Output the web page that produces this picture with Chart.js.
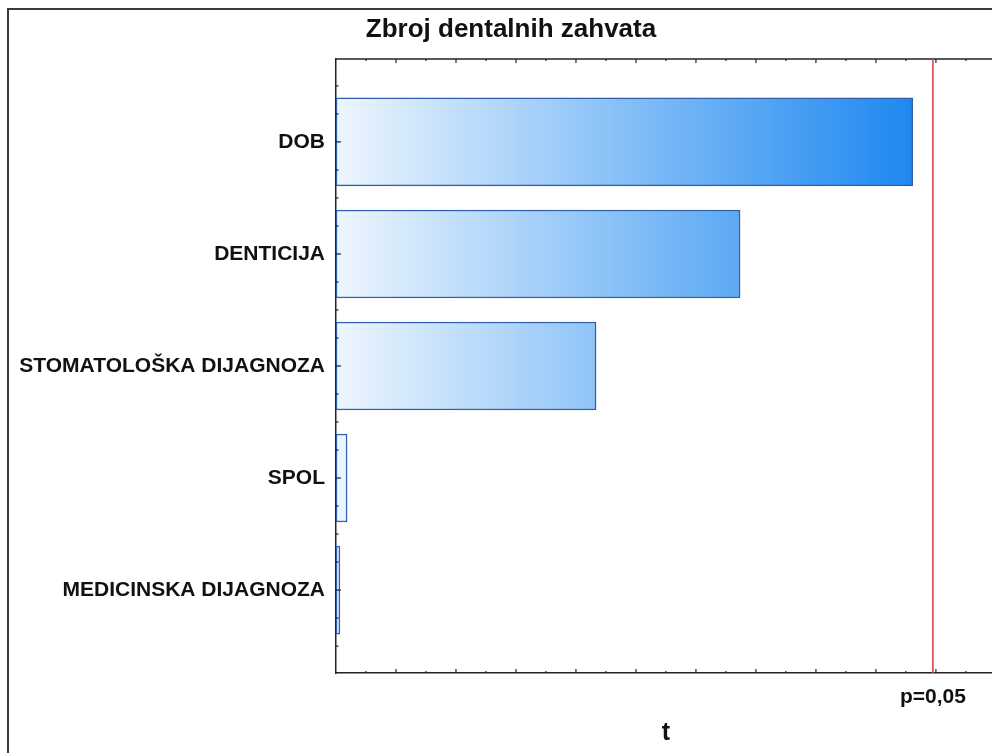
<!DOCTYPE html>
<html>
<head>
<meta charset="utf-8">
<script src="https://cdn.jsdelivr.net/npm/chart.js@4"></script>
<style>
  html, body { margin: 0; padding: 0; background: #fff; overflow: hidden; }
  #wrap { width: 992px; height: 753px; position: relative; }
</style>
</head>
<body>
<div id="wrap"><canvas id="myChart"></canvas></div>
<script>
const categories = [
    'DOB',
    'DENTICIJA',
    'STOMATOLOŠKA DIJAGNOZA',
    'SPOL',
    'MEDICINSKA DIJAGNOZA'
];

// t values
const tValues = [1.923, 1.347, 0.867, 0.037, 0.013];

// critical t for p=0,05
const critT = 1.99;
const critLabel = 'p=0,05';

const chartTitle = 'Zbroj dentalnih zahvata';
const axisTitle = 't';

const fontFamily = '"Liberation Sans", Arial, sans-serif';

const data = {
    datasets: [{
        data: tValues.map((v, i) => ({ x: v, y: i + 1 })),
        backgroundColor: (c) => {
            const chart = c.chart;
            if (!chart.chartArea) return '#8ec4f8';
            const xs = chart.scales.x;
            const g = chart.ctx.createLinearGradient(xs.getPixelForValue(0), 0, xs.getPixelForValue(Math.max(...tValues)), 0);
            g.addColorStop(0, '#edf6fe');
            g.addColorStop(1, '#1e88f0');
            return g;
        },
        borderColor: '#2f5fae',
        borderWidth: 1.5,
        borderSkipped: false,
        barThickness: 88
    }]
};

// frame, inward ticks, critical line and texts
const extras = {
    id: 'extras',
    beforeDraw(chart) {
        const ctx = chart.ctx;
        ctx.save();
        ctx.strokeStyle = '#3a3a3a';
        ctx.lineWidth = 2;
        ctx.beginPath();
        ctx.moveTo(8, 753);
        ctx.lineTo(8, 9);
        ctx.lineTo(992, 9);
        ctx.stroke();
        ctx.restore();
    },
    afterDraw(chart) {
        const ctx = chart.ctx;
        const a = chart.chartArea;
        const xs = chart.scales.x;
        const ys = chart.scales.y;
        ctx.save();

        // top border
        ctx.strokeStyle = '#222';
        ctx.lineWidth = 1.5;
        ctx.beginPath();
        ctx.moveTo(a.left, a.top);
        ctx.lineTo(a.right, a.top);
        ctx.stroke();

        // x ticks, bottom and top, pointing inward
        ctx.lineWidth = 1.2;
        xs.ticks.forEach(t => {
            if (t.value <= 0.0001) return;
            const major = Math.round(t.value * 10) % 2 === 0;
            const len = major ? 4 : 2;
            const px = xs.getPixelForValue(t.value);
            ctx.beginPath();
            ctx.moveTo(px, a.bottom);
            ctx.lineTo(px, a.bottom - len);
            ctx.moveTo(px, a.top);
            ctx.lineTo(px, a.top + len);
            ctx.stroke();
        });

        // y ticks on the left axis
        ys.ticks.forEach(t => {
            const major = Math.abs(t.value - Math.round(t.value)) < 0.001;
            const len = major ? 5 : 2.5;
            const py = ys.getPixelForValue(t.value);
            ctx.beginPath();
            ctx.moveTo(a.left, py);
            ctx.lineTo(a.left + len, py);
            ctx.stroke();
        });

        // critical value line
        const cx = xs.getPixelForValue(critT);
        ctx.strokeStyle = '#d04a4a';
        ctx.lineWidth = 1.6;
        ctx.beginPath();
        ctx.moveTo(cx, a.top);
        ctx.lineTo(cx, a.bottom);
        ctx.stroke();

        ctx.fillStyle = '#111';
        ctx.textAlign = 'center';
        ctx.textBaseline = 'middle';
        ctx.font = 'bold 21px ' + fontFamily;
        ctx.fillText(critLabel, cx, 697);

        ctx.font = 'bold 26px ' + fontFamily;
        ctx.fillText(chartTitle, 511, 30);

        ctx.font = 'bold 25px ' + fontFamily;
        ctx.fillText(axisTitle, xs.getPixelForValue(1.1), 733);
        ctx.restore();
    }
};

const config = {
    type: 'bar',
    data: data,
    options: {
        indexAxis: 'y',
        responsive: false,
        animation: false,
        layout: {
            padding: { left: 0, right: 0, top: 59, bottom: 80 }
        },
        plugins: {
            legend: { display: false },
            tooltip: { enabled: false },
            title: { display: false }
        },
        scales: {
            x: {
                type: 'linear',
                min: 0,
                max: 2.187,
                grid: { display: false, drawTicks: false },
                border: { display: true, color: '#222', width: 1.5 },
                ticks: { display: false, stepSize: 0.1, includeBounds: false },
                afterFit: (s) => { s.height = 0; }
            },
            y: {
                type: 'linear',
                reverse: true,
                offset: false,
                min: 0.26,
                max: 5.74,
                grid: { display: false, drawTicks: false, offset: false },
                border: { display: true, color: '#222', width: 1.5 },
                ticks: {
                    stepSize: 0.25,
                    includeBounds: false,
                    autoSkip: false,
                    padding: 11,
                    color: '#111',
                    font: { family: fontFamily, size: 21, weight: 'bold' },
                    callback: (v) => {
                        const i = Math.round(v);
                        if (Math.abs(v - i) > 0.001) return '';
                        return categories[i - 1] || '';
                    }
                },
                afterFit: (s) => { s.width = 336; }
            }
        }
    },
    plugins: [extras]
};

const canvas = document.getElementById('myChart');
canvas.width = 992;
canvas.height = 753;
new Chart(canvas.getContext('2d'), config);
</script>
</body>
</html>
